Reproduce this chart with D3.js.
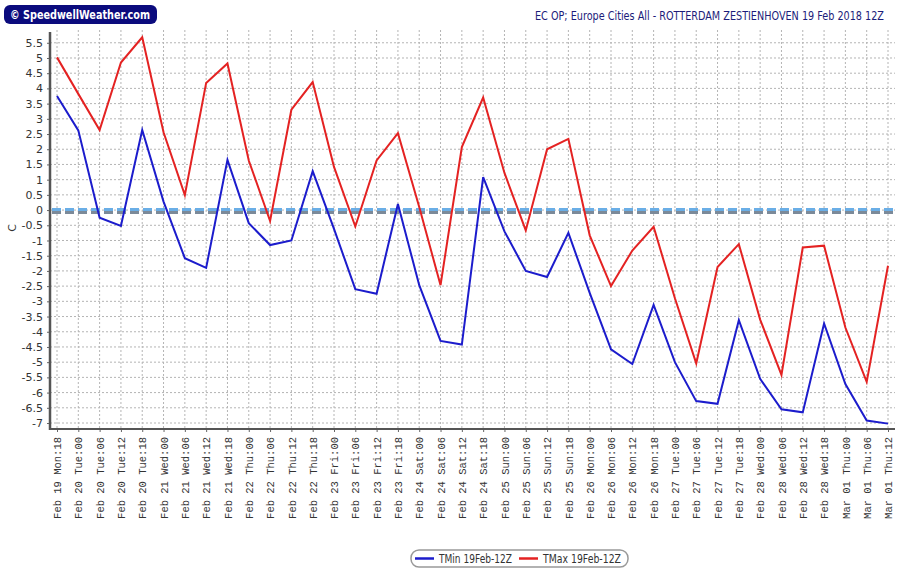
<!DOCTYPE html>
<html lang="en">
<head>
    <meta charset="UTF-8">
    <script src="https://d3js.org/d3.v7.min.js"></script>
    <title>Rotterdam TMin / TMax</title>
    <style>
        body { margin: 0; background: #fff; }
    </style>
</head>
<body>
    <script>
        // forecast steps (6 hourly)
        var categories = [
            'Feb 19 Mon:18',
            'Feb 20 Tue:00', 'Feb 20 Tue:06', 'Feb 20 Tue:12', 'Feb 20 Tue:18',
            'Feb 21 Wed:00', 'Feb 21 Wed:06', 'Feb 21 Wed:12', 'Feb 21 Wed:18',
            'Feb 22 Thu:00', 'Feb 22 Thu:06', 'Feb 22 Thu:12', 'Feb 22 Thu:18',
            'Feb 23 Fri:00', 'Feb 23 Fri:06', 'Feb 23 Fri:12', 'Feb 23 Fri:18',
            'Feb 24 Sat:00', 'Feb 24 Sat:06', 'Feb 24 Sat:12', 'Feb 24 Sat:18',
            'Feb 25 Sun:00', 'Feb 25 Sun:06', 'Feb 25 Sun:12', 'Feb 25 Sun:18',
            'Feb 26 Mon:00', 'Feb 26 Mon:06', 'Feb 26 Mon:12', 'Feb 26 Mon:18',
            'Feb 27 Tue:00', 'Feb 27 Tue:06', 'Feb 27 Tue:12', 'Feb 27 Tue:18',
            'Feb 28 Wed:00', 'Feb 28 Wed:06', 'Feb 28 Wed:12', 'Feb 28 Wed:18',
            'Mar 01 Thu:00', 'Mar 01 Thu:06', 'Mar 01 Thu:12'
        ];
        var tmin = [
            3.75, 2.62, -0.25, -0.52, 2.63, 0.28, -1.58, -1.9, 1.65,
            -0.43, -1.15, -1.0, 1.28, -0.62, -2.6, -2.75, 0.2,
            -2.47, -4.3, -4.42, 1.08, -0.7, -2.0, -2.2, -0.75,
            -2.72, -4.58, -5.06, -3.12, -5.0, -6.28, -6.37, -3.62,
            -5.55, -6.55, -6.65, -3.73, -5.72, -6.92, -7.02
        ];
        var tmax = [
            5.02, 3.82, 2.63, 4.85, 5.68, 2.56, 0.49, 4.18, 4.82,
            1.63, -0.36, 3.3, 4.21, 1.42, -0.54, 1.63, 2.53,
            0.1, -2.47, 2.07, 3.7, 1.22, -0.67, 2.0, 2.34,
            -0.83, -2.5, -1.33, -0.55, -2.9, -5.04, -1.87, -1.12,
            -3.6, -5.42, -1.23, -1.17, -3.86, -5.65, -1.83
        ];
        var yTicks = d3.range(-7, 5.51, 0.5);
        var seriesNames = ['TMin 19Feb-12Z', 'TMax 19Feb-12Z'];
        var seriesColors = ['#1c1ccc', '#e42222'];

        var width = 900, height = 577;
        var plotLeft = 50, plotRight = 895, plotTop = 30, plotBottom = 429;

        var svg = d3.select('body').append('svg')
            .attr('width', width)
            .attr('height', height)
            .style('font-family', 'Tahoma, "DejaVu Sans", sans-serif');

        var x = d3.scalePoint()
            .domain(categories)
            .range([57, 888]);
        var y = d3.scaleLinear()
            .domain([-7.197, 5.92])
            .range([plotBottom, plotTop]);

        // logo
        svg.append('rect')
            .attr('x', 4).attr('y', 5)
            .attr('width', 153).attr('height', 19)
            .attr('rx', 6)
            .attr('fill', '#0b0b7d');
        svg.append('text')
            .attr('x', 80).attr('y', 18.5)
            .attr('text-anchor', 'middle')
            .attr('fill', '#fff')
            .attr('font-weight', 'bold')
            .attr('font-size', 11.5)
            .attr('textLength', 140)
            .attr('lengthAdjust', 'spacingAndGlyphs')
            .text('\u00a9 SpeedwellWeather.com');

        // title
        svg.append('text')
            .attr('x', 884).attr('y', 20)
            .attr('text-anchor', 'end')
            .attr('fill', '#1c1c7a')
            .attr('font-size', 11.5)
            .attr('textLength', 349)
            .attr('lengthAdjust', 'spacingAndGlyphs')
            .text('EC OP; Europe Cities All - ROTTERDAM ZESTIENHOVEN 19 Feb 2018 12Z');

        // grid
        var grid = svg.append('g');
        grid.selectAll('.hg')
            .data(yTicks)
            .enter().append('line')
            .attr('x1', plotLeft).attr('x2', plotRight)
            .attr('y1', function(d) { return y(d); })
            .attr('y2', function(d) { return y(d); })
            .attr('stroke', '#b4b4b4')
            .attr('stroke-dasharray', '2,2');
        grid.selectAll('.vg')
            .data(categories)
            .enter().append('line')
            .attr('x1', function(d) { return x(d); })
            .attr('x2', function(d) { return x(d); })
            .attr('y1', plotTop).attr('y2', plotBottom)
            .attr('stroke', '#b4b4b4')
            .attr('stroke-dasharray', '2,2');

        // zero line (double dashed)
        svg.append('line')
            .attr('x1', plotLeft + 2).attr('x2', plotRight)
            .attr('y1', y(0) + 2.5).attr('y2', y(0) + 2.5)
            .attr('stroke', '#7c8a99')
            .attr('stroke-width', 3)
            .attr('stroke-dasharray', '9,4');
        svg.append('line')
            .attr('x1', plotLeft + 2).attr('x2', plotRight)
            .attr('y1', y(0) - 0.5).attr('y2', y(0) - 0.5)
            .attr('stroke', '#6aaee6')
            .attr('stroke-width', 3)
            .attr('stroke-dasharray', '9,4');

        // axes
        var yAxis = d3.axisLeft(y)
            .tickValues(yTicks)
            .tickSize(3)
            .tickFormat(function(d) { return d === 0 ? '0' : String(d); });
        var gy = svg.append('g')
            .attr('transform', 'translate(' + plotLeft + ',0)')
            .call(yAxis);
        gy.select('.domain').remove();
        gy.selectAll('.tick line').attr('stroke', '#666');
        gy.selectAll('.tick text')
            .attr('x', -7)
            .attr('fill', '#333')
            .attr('font-size', 11)
            .style('font-family', 'Tahoma, "DejaVu Sans", sans-serif');

        var xAxis = d3.axisBottom(x).tickSize(3);
        var gx = svg.append('g')
            .attr('transform', 'translate(0,' + plotBottom + ')')
            .call(xAxis);
        gx.select('.domain').remove();
        gx.selectAll('.tick line').attr('stroke', '#666');
        gx.selectAll('.tick text')
            .attr('transform', 'rotate(-90)')
            .attr('x', -8).attr('y', 0).attr('dy', '0.35em')
            .attr('text-anchor', 'end')
            .attr('fill', '#333')
            .attr('font-size', 10.5)
            .style('font-family', '"Liberation Mono", "Courier New", monospace');

        svg.append('line')
            .attr('x1', plotLeft).attr('x2', plotLeft)
            .attr('y1', plotTop + 2).attr('y2', plotBottom + 1)
            .attr('stroke', '#555').attr('stroke-width', 2.5);
        svg.append('line')
            .attr('x1', plotLeft).attr('x2', plotRight)
            .attr('y1', plotBottom).attr('y2', plotBottom)
            .attr('stroke', '#555').attr('stroke-width', 2);

        svg.append('text')
            .attr('transform', 'translate(16,228) rotate(-90)')
            .attr('text-anchor', 'middle')
            .attr('fill', '#333')
            .attr('font-size', 11)
            .text('C');

        // series
        var line = d3.line()
            .x(function(d, i) { return x(categories[i]); })
            .y(function(d) { return y(d); });
        [tmin, tmax].forEach(function(s, k) {
            svg.append('path')
                .datum(s)
                .attr('d', line)
                .attr('fill', 'none')
                .attr('stroke', seriesColors[k])
                .attr('stroke-width', 2)
                .attr('stroke-linejoin', 'miter');
        });

        // legend
        var lg = svg.append('g');
        lg.append('rect')
            .attr('x', 411).attr('y', 550)
            .attr('width', 217).attr('height', 17)
            .attr('rx', 8)
            .attr('fill', '#fff')
            .attr('stroke', '#999')
            .attr('stroke-width', 1.5);
        var legendX = [415, 519];
        var legendW = [73, 78];
        seriesNames.forEach(function(n, k) {
            lg.append('line')
                .attr('x1', legendX[k]).attr('x2', legendX[k] + 19)
                .attr('y1', 558.5).attr('y2', 558.5)
                .attr('stroke', seriesColors[k])
                .attr('stroke-width', 2.5);
            lg.append('text')
                .attr('x', legendX[k] + 24).attr('y', 562.5)
                .attr('fill', '#333')
                .attr('font-size', 11.5)
                .attr('textLength', legendW[k])
                .attr('lengthAdjust', 'spacingAndGlyphs')
                .text(n);
        });
    </script>
</body>
</html>
